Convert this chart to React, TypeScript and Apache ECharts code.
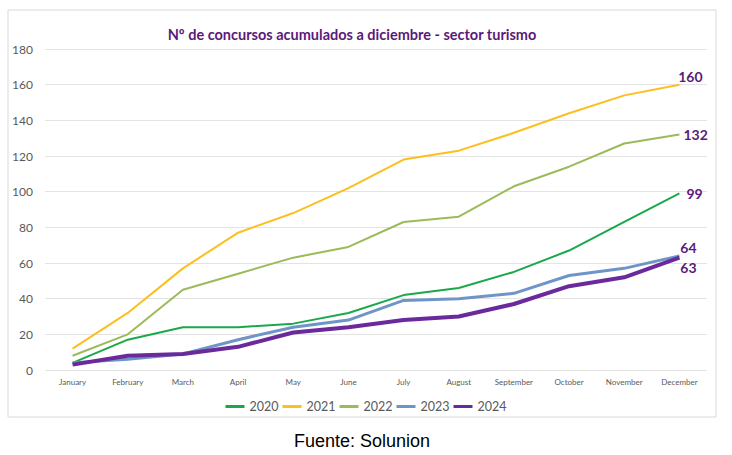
import React, { useEffect, useRef } from "react";
import * as echarts from "echarts";

const months = ["January","February","March","April","May","June","July","August","September","October","November","December"];
const years = ["2020","2021","2022","2023","2024"];
const s2020 = [4,17,24,24,26,32,42,46,55,67,83,99];
const s2021 = [12,32,57,77,88,102,118,123,133,144,154,160];
const s2022 = [8,20,45,54,63,69,83,86,103,114,127,132];
const s2023 = [4,6,9,17,24,28,39,40,43,53,57,64];
const s2024 = [3,8,9,13,21,24,28,30,37,47,52,63];
const yTicks = [0,20,40,60,80,100,120,140,160,180];

const colors = ["#1aa84b","#fcbf1e","#9bbb59","#6f95c8","#6a2a9c"];
const widths = [2,2,2,3,4];
const labelPos: any[] = [
  { position: "right", offset: [2, 0] },
  { position: "top", offset: [11, 4] },
  { position: "right", offset: [-1, 0] },
  { position: "top", offset: [9, 4] },
  { position: "bottom", offset: [9, -2] },
];

export default function App() {
  const ref = useRef<HTMLDivElement>(null);
  useEffect(() => {
    const chart = echarts.init(ref.current!, null, { renderer: "svg" });
    const all = [s2020, s2021, s2022, s2023, s2024];
    chart.setOption({
      animation: false,
      backgroundColor: "#ffffff",
      title: {
        text: "Nº de concursos acumulados a diciembre - sector turismo",
        left: 347,
        top: 22,
        textAlign: "center",
        textStyle: { color: "#5b1a7a", fontSize: 14.5, fontWeight: "bold", fontFamily: "Lato" },
      },
      grid: { left: 45, right: 25, top: 49, bottom: 85 },
      xAxis: {
        type: "category",
        data: months,
        boundaryGap: true,
        axisLine: { show: false },
        axisTick: { show: false },
        axisLabel: { color: "#595959", fontSize: 8, fontFamily: "Lato", margin: 8, interval: 0 },
      },
      yAxis: {
        type: "value",
        min: yTicks[0],
        max: yTicks[yTicks.length - 1],
        interval: 20,
        axisLabel: { color: "#595959", fontSize: 12, fontFamily: "Lato", margin: 12 },
        splitLine: { lineStyle: { color: "#e3e3e3", width: 1 } },
        axisLine: { show: false },
        axisTick: { show: false },
      },
      legend: {
        data: years,
        left: "center",
        top: 395,
        icon: "rect",
        itemWidth: 19,
        itemHeight: 3,
        itemGap: 4,
        textStyle: { color: "#595959", fontSize: 12.5, fontFamily: "Lato" },
      },
      graphic: [
        {
          type: "rect",
          shape: { x: 8, y: 10, width: 708, height: 407 },
          style: { fill: "none", stroke: "#d9d9d9", lineWidth: 1 },
          z: -1,
        },
        {
          type: "text",
          x: 362,
          y: 441,
          style: {
            text: "Fuente: Solunion",
            fill: "#000000",
            fontSize: 18,
            fontFamily: "Liberation Sans",
            align: "center",
            verticalAlign: "middle",
          },
        },
      ],
      series: years.map((y, k) => ({
        name: y,
        type: "line",
        showSymbol: true,
        symbol: "circle",
        symbolSize: 0,
        z: k + 2,
        color: colors[k],
        lineStyle: { width: widths[k], color: colors[k] },
        data: all[k].map((v, i) =>
          i === all[k].length - 1
            ? {
                value: v,
                label: {
                  show: true,
                  ...labelPos[k],
                  color: "#5b1a7a",
                  fontSize: 14,
                  fontWeight: "bold",
                  fontFamily: "Lato",
                  formatter: String(v),
                },
              }
            : v
        ),
      })),
    });
    return () => chart.dispose();
  }, []);
  return <div ref={ref} style={{ position: "fixed", left: 0, top: 0, width: 732, height: 455 }} />;
}
